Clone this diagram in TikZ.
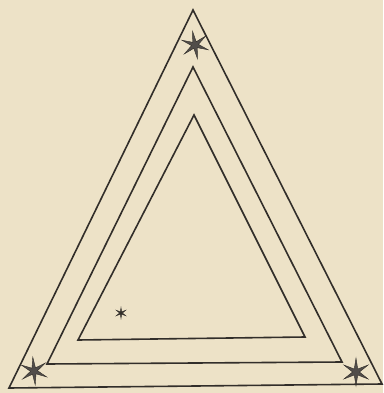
\documentclass[tikz,border=0pt]{standalone}
\usetikzlibrary{shapes.geometric}
\definecolor{paper}{RGB}{237,226,199}
\definecolor{ink}{RGB}{50,46,42}
\tikzset{
  tri/.style={draw=ink, line width=1.6pt, line join=miter},
  bigstar/.style={star, star points=6, star point ratio=4, fill=ink!85, draw=ink, line width=0.4pt, minimum size=28pt, inner sep=0pt},
  smallstar/.style={star, star points=6, star point ratio=4, fill=ink, draw=ink, line width=0.4pt, minimum size=11pt, inner sep=0pt}
}
\begin{document}
\begin{tikzpicture}[x=1pt,y=-1pt]
\fill[paper] (0,0) rectangle (383,393);
\useasboundingbox (0,0) rectangle (383,393);
% outer
\coordinate (oa) at (193,10);
\coordinate (ob) at (9,388);
\coordinate (oc) at (382,384);
% middle
\coordinate (ma) at (193,67);
\coordinate (mb) at (47,364);
\coordinate (mc) at (342,362);
% inner
\coordinate (ia) at (194,115);
\coordinate (ib) at (78,340);
\coordinate (ic) at (305,337);
\draw[tri] (oa) -- (ob) -- (oc) -- cycle;
\draw[tri] (ma) -- (mb) -- (mc) -- cycle;
\draw[tri] (ia) -- (ib) -- (ic) -- cycle;
\node[bigstar, rotate=10] (s1) at (195,45) {};
\node[bigstar, rotate=5] (s2) at (34,371) {};
\node[bigstar, rotate=0] (s3) at (356,372) {};
\node[smallstar] (s4) at (121,313) {};
\end{tikzpicture}
\end{document}
